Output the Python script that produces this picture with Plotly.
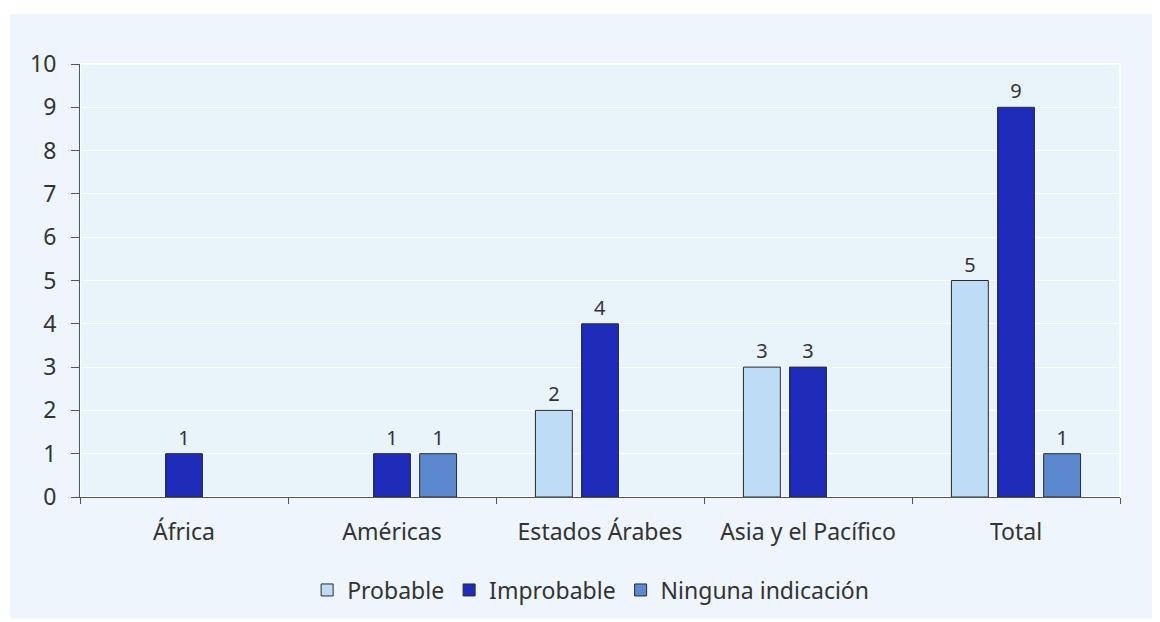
import plotly.graph_objects as go

categories = ["África", "Américas", "Estados Árabes", "Asia y el Pacífico", "Total"]
probable = [None, None, 2, 3, 5]
improbable = [1, 1, 4, 3, 9]
ninguna = [None, 1, None, None, 1]
series_names = ["Probable", "Improbable", "Ninguna indicación"]
colors = ["#BFDCF6", "#1F2BB9", "#5B88CF"]

fig = go.Figure()
for name, vals, col in zip(series_names, [probable, improbable, ninguna], colors):
    fig.add_trace(go.Bar(
        x=categories, y=vals, name=name,
        marker=dict(color=col, line=dict(color="#2b2b2b", width=1)),
        text=[("" if v is None else str(v)) for v in vals],
        textposition="outside", cliponaxis=False,
        textfont=dict(size=20, color="#333333"),
    ))

# page body has an 8px margin
W, H = 1152, 614
L, R, T, B = 72, 40, 56, 124
pw, ph = W - L - R, H - T - B

fig.add_shape(type="rect", xref="paper", yref="paper", layer="below",
              x0=(2 - L) / pw, x1=(W - L) / pw,
              y0=(ph + T - 612) / ph, y1=(ph + T - 6) / ph,
              fillcolor="#EEF5FC", line=dict(width=0))
fig.add_shape(type="rect", xref="paper", yref="paper", layer="below",
              x0=0, x1=1, y0=0, y1=1,
              fillcolor="#E9F3FA", line=dict(color="white", width=2))

fig.update_layout(
    width=W, height=H,
    margin=dict(l=L, r=R, t=T, b=B),
    paper_bgcolor="white", plot_bgcolor="rgba(0,0,0,0)",
    barmode="group", bargap=0.335, bargroupgap=0.2,
    font=dict(family="Noto Sans", size=22, color="#333333"),
    legend=dict(orientation="h", x=0.491, xanchor="center", y=-0.212, yanchor="middle",
                font=dict(size=23, color="#333333"), itemwidth=30, traceorder="normal",
                bgcolor="rgba(0,0,0,0)"),
    showlegend=True,
)
fig.update_xaxes(showgrid=False, showline=True, linecolor="#555555", linewidth=1,
                 ticks="outside", tickson="boundaries", ticklen=6, tickcolor="#555555",
                 ticklabelstandoff=14,
                 tickfont=dict(size=23, color="#333333"))
fig.update_yaxes(range=[0, 10], dtick=1, showgrid=True, gridcolor="white", gridwidth=1,
                 showline=True, linecolor="#555555", linewidth=1, zeroline=False,
                 ticks="outside", ticklen=8, tickcolor="#555555",
                 ticklabelstandoff=10,
                 tickfont=dict(size=23, color="#333333"))

fig.write_html("out.html")
